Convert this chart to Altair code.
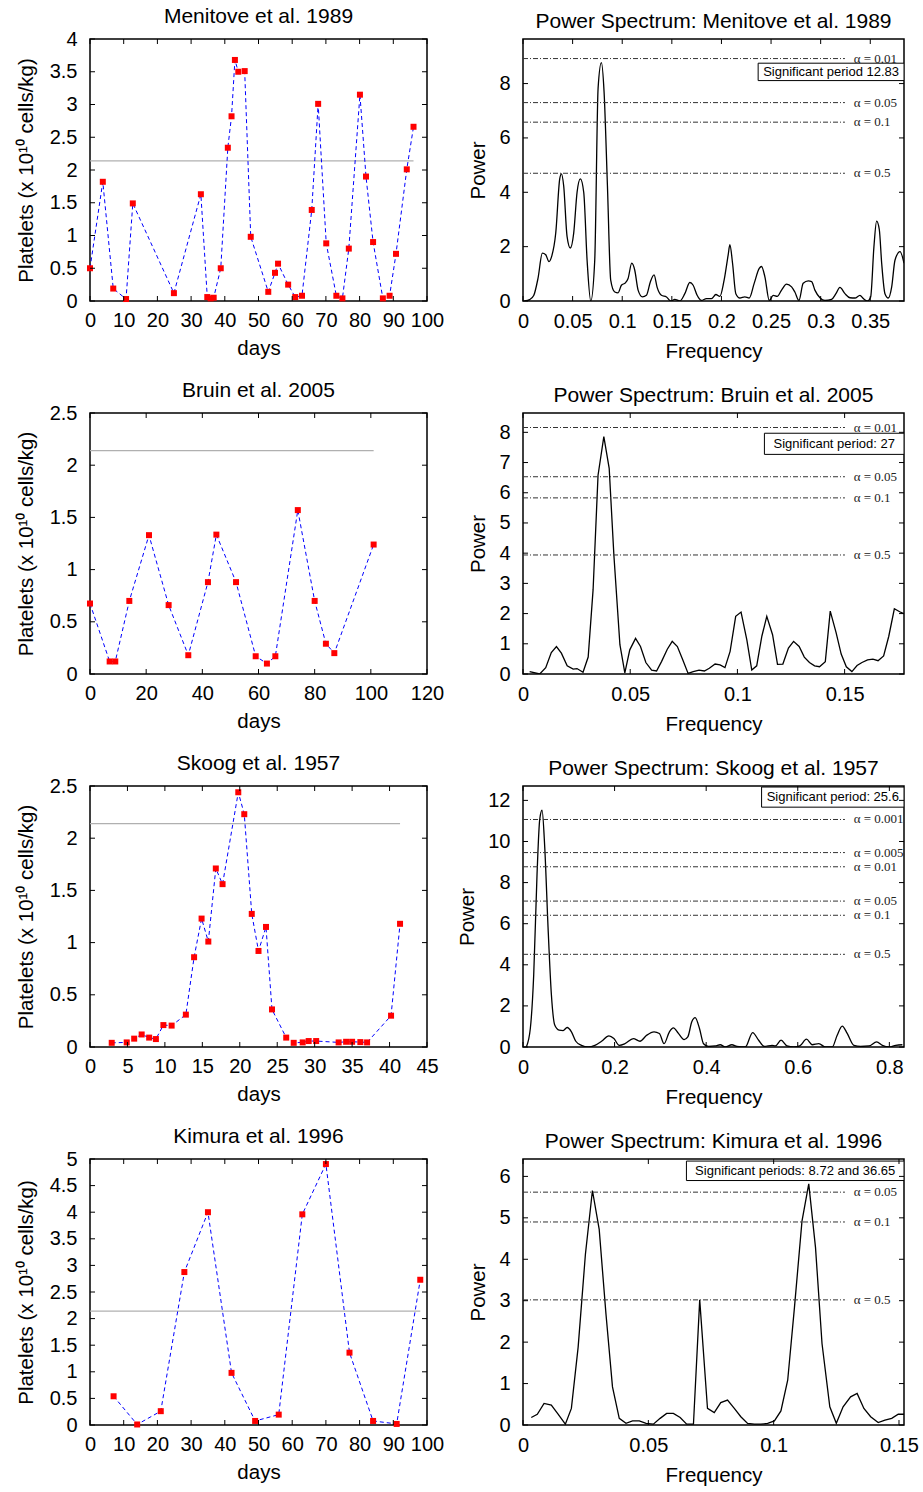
import altair as alt
import pandas as pd

FONT = "Liberation Sans"
SERIF = "Liberation Serif"
YTITLE = "Platelets (x 10\u00b9\u2070 cells/kg)"
NORMAL_LEVEL = 2.14

# ---------------- time series ----------------
men_days = [0, 3.8, 6.9, 10.7, 12.7, 24.9, 32.9, 34.8, 35.8, 36.7, 38.8, 40.9, 42.0, 43.0, 44.0,
            45.9, 47.7, 52.9, 54.9, 55.8, 58.8, 60.9, 62.9, 65.8, 67.7, 70.1, 73.1, 74.9, 76.8,
            80.1, 81.9, 84.0, 86.9, 88.9, 90.8, 94.0, 96.0]
men_vals = [0.50, 1.82, 0.19, 0.03, 1.49, 0.12, 1.63, 0.06, 0.04, 0.05, 0.50, 2.34, 2.82, 3.68,
            3.50, 3.51, 0.98, 0.14, 0.43, 0.57, 0.25, 0.06, 0.08, 1.39, 3.01, 0.88, 0.08, 0.04,
            0.80, 3.15, 1.90, 0.90, 0.04, 0.08, 0.72, 2.01, 2.66]

bru_days = [0, 7, 9, 14, 21, 28, 35, 42, 45, 52, 59, 63, 66, 74, 80, 84, 87, 101]
bru_vals = [0.675, 0.12, 0.12, 0.70, 1.33, 0.66, 0.18, 0.88, 1.335, 0.88, 0.17, 0.10, 0.17,
            1.57, 0.70, 0.29, 0.20, 1.24]

sko_days = [2.9, 4.9, 5.9, 6.9, 7.9, 8.8, 9.8, 10.9, 12.8, 13.9, 14.9, 15.8, 16.8, 17.7, 19.8,
            20.6, 21.6, 22.5, 23.5, 24.3, 26.2, 27.2, 28.4, 29.2, 30.2, 33.2, 34.2, 35.0, 36.1,
            37.0, 40.2, 41.4]
sko_vals = [0.04, 0.044, 0.08, 0.12, 0.09, 0.076, 0.21, 0.205, 0.31, 0.86, 1.23, 1.01, 1.71,
            1.56, 2.44, 2.23, 1.275, 0.92, 1.15, 0.36, 0.09, 0.04, 0.044, 0.057, 0.057, 0.044,
            0.05, 0.05, 0.047, 0.044, 0.30, 1.18]

kim_days = [7, 14, 21, 28, 35, 42, 49, 56, 63, 70, 77, 84, 91, 98]
kim_vals = [0.54, 0.01, 0.26, 2.875, 4.0, 0.98, 0.076, 0.195, 3.96, 4.905, 1.36, 0.076, 0.02, 2.73]

# ---------------- power spectra ----------------
men_f = [0.0017, 0.0067, 0.0108, 0.0151, 0.0195, 0.0229, 0.0262, 0.0289, 0.033, 0.037, 0.0387,
         0.041, 0.0444, 0.0477, 0.0511, 0.0545, 0.0578, 0.0612, 0.0646, 0.0683, 0.0723, 0.0757,
         0.079, 0.0817, 0.0851, 0.0884, 0.0925, 0.0958, 0.0992, 0.1032, 0.1059, 0.1096, 0.1126,
         0.116, 0.1204, 0.1244, 0.1284, 0.1321, 0.1352, 0.1395, 0.1446, 0.149, 0.153, 0.158,
         0.1631, 0.1681, 0.1715, 0.1755, 0.1799, 0.1849, 0.19, 0.1944, 0.1984, 0.2024, 0.2068,
         0.2085, 0.2112, 0.2145, 0.2186, 0.2236, 0.228, 0.233, 0.2381, 0.2404, 0.2438, 0.2482,
         0.2522, 0.2562, 0.2606, 0.2656, 0.2707, 0.274, 0.2781, 0.2824, 0.2875, 0.2909, 0.2942,
         0.2993, 0.3043, 0.311, 0.3154, 0.3194, 0.3245, 0.3295, 0.3346, 0.3396, 0.343, 0.347,
         0.3504, 0.3537, 0.3564, 0.3591, 0.3615, 0.3648, 0.3682, 0.3716, 0.3749, 0.38, 0.384]
men_p = [0, 0.05, 0.2, 0.83, 1.76, 1.70, 1.45, 1.64, 2.5, 4.49, 4.68, 4.24, 2.38, 1.95, 2.5, 4.0,
         4.49, 4.0, 1.5, 0, 1.5, 7.84, 8.77, 7.7, 4.24, 0.77, 0.33, 0.3, 0.58, 0.67, 0.83, 1.39,
         1.14, 0.4, 0.15, 0.21, 0.71, 0.96, 0.5, 0.21, 0.15, 0, 0.06, 0, 0.27, 0.68, 0.58, 0.21,
         0.02, 0.09, 0.09, 0.24, 0.17, 0.71, 1.70, 2.07, 1.39, 0.27, 0.11, 0.15, 0.11, 0.65, 1.20,
         1.27, 0.89, 0.02, 0.21, 0.17, 0.4, 0.62, 0.52, 0.33, 0.02, 0.65, 0.74, 0.71, 0.4, 0.12,
         0.02, 0.06, 0.27, 0.5, 0.27, 0.12, 0.11, 0.21, 0.09, 0, 0.15, 2.0, 2.94, 2.63, 1.39, 0.27,
         0.11, 0.52, 1.5, 1.82, 1.39]

bru_f = [0.0031, 0.0078, 0.0106, 0.0132, 0.0156, 0.0179, 0.0206, 0.0234, 0.0252, 0.028, 0.0304,
         0.0327, 0.035, 0.0377, 0.0402, 0.0424, 0.0452, 0.0475, 0.0498, 0.0525, 0.0548, 0.0573,
         0.06, 0.0623, 0.0646, 0.0673, 0.0696, 0.072, 0.0745, 0.077, 0.0794, 0.0821, 0.0846,
         0.0869, 0.0896, 0.0919, 0.0942, 0.0966, 0.0992, 0.1017, 0.1044, 0.1067, 0.109, 0.1114,
         0.1137, 0.1164, 0.1187, 0.1212, 0.1238, 0.1262, 0.1288, 0.1312, 0.1336, 0.136, 0.1383,
         0.141, 0.1433, 0.146, 0.1484, 0.1508, 0.1534, 0.1558, 0.1581, 0.1607, 0.1632, 0.1656,
         0.1682, 0.1706, 0.1732, 0.1757, 0.1776]
bru_p = [0.08, 0, 0.21, 0.71, 0.91, 0.69, 0.27, 0.16, 0.18, 0.06, 0.56, 2.8, 6.58, 7.86, 6.81,
         3.92, 0.97, 0.04, 0.80, 1.18, 0.91, 0.38, 0.13, 0.1, 0.41, 0.82, 1.08, 0.91, 0.47, 0.02,
         0.08, 0.13, 0.1, 0.19, 0.33, 0.3, 0.21, 0.75, 1.91, 2.05, 1.13, 0.13, 0.27, 1.25, 1.91,
         1.3, 0.32, 0.33, 0.86, 1.08, 0.91, 0.56, 0.38, 0.27, 0.24, 0.41, 2.08, 1.38, 0.66, 0.24,
         0.08, 0.28, 0.38, 0.47, 0.49, 0.44, 0.6, 1.25, 2.16, 2.06, 2.0]

sko_f = [0.0073, 0.016, 0.0234, 0.0307, 0.0365, 0.0416, 0.0474, 0.0547, 0.062, 0.0693, 0.0788,
         0.0876, 0.0964, 0.1058, 0.1153, 0.1277, 0.1423, 0.157, 0.1715, 0.1876, 0.1985, 0.2102,
         0.2226, 0.2409, 0.2555, 0.27, 0.2861, 0.2978, 0.308, 0.3197, 0.3285, 0.3394, 0.3518,
         0.3599, 0.3686, 0.3759, 0.3854, 0.3942, 0.4051, 0.4197, 0.4307, 0.4416, 0.4562, 0.4672,
         0.4854, 0.5015, 0.5146, 0.527, 0.5438, 0.5511, 0.5635, 0.5766, 0.5912, 0.6044, 0.619,
         0.6314, 0.646, 0.6606, 0.6752, 0.6861, 0.6971, 0.708, 0.7226, 0.7372, 0.7555, 0.7723,
         0.7847, 0.7993, 0.8139, 0.8285]
sko_p = [0, 0.9, 3.52, 8.44, 11.07, 11.52, 9.75, 5.82, 2.54, 1.07, 0.82, 0.8, 0.95, 0.74, 0.28,
         0.08, 0, 0.08, 0.28, 0.54, 0.41, 0.08, 0.16, 0.41, 0.28, 0.57, 0.74, 0.66, 0.16, 0.74,
         0.93, 0.66, 0.36, 0.49, 1.23, 1.43, 0.9, 0.16, 0.03, 0.05, 0.11, 0, 0.11, 0.03, 0, 0.7,
         0.33, 0.03, 0.08, 0.05, 0.33, 0.05, 0, 0.05, 0.38, 0.11, 0.16, 0, 0, 0.57, 1.02, 0.66,
         0.08, 0.03, 0.05, 0.25, 0.08, 0, 0.08, 0.11]

kim_f = [0.0033, 0.0057, 0.0084, 0.0113, 0.014, 0.0169, 0.0193, 0.022, 0.0249, 0.0277, 0.0304,
         0.0331, 0.0357, 0.0384, 0.0411, 0.0437, 0.0464, 0.0491, 0.052, 0.0547, 0.0573, 0.06,
         0.0627, 0.0653, 0.068, 0.0705, 0.0736, 0.0763, 0.0789, 0.0816, 0.0843, 0.0869, 0.0896,
         0.0923, 0.0949, 0.0976, 0.1003, 0.1029, 0.1056, 0.1083, 0.1113, 0.114, 0.1167, 0.1193,
         0.1224, 0.125, 0.1277, 0.1307, 0.1333, 0.136, 0.1387, 0.1417, 0.1444, 0.1471, 0.1497,
         0.152]
kim_p = [0.18, 0.26, 0.52, 0.48, 0.26, 0.02, 0.4, 1.88, 4.12, 5.66, 4.72, 2.68, 0.92, 0.16, 0.04,
         0.1, 0.1, 0.04, 0.02, 0.16, 0.28, 0.28, 0.18, 0.02, 0.02, 3.02, 0.4, 0.3, 0.54, 0.6, 0.4,
         0.2, 0.04, 0.02, 0.02, 0.04, 0.1, 0.34, 1.08, 2.84, 4.92, 5.82, 4.28, 1.96, 0.44, 0.04,
         0.44, 0.68, 0.76, 0.4, 0.2, 0.06, 0.12, 0.16, 0.26, 0.26]

# significance thresholds
men_alpha = ["\u03b1 = 0.01", "\u03b1 = 0.05", "\u03b1 = 0.1", "\u03b1 = 0.5"]
men_level = [8.92, 7.30, 6.58, 4.70]
bru_alpha = ["\u03b1 = 0.01", "\u03b1 = 0.05", "\u03b1 = 0.1", "\u03b1 = 0.5"]
bru_level = [8.16, 6.53, 5.83, 3.94]
sko_alpha = ["\u03b1 = 0.001", "\u03b1 = 0.005", "\u03b1 = 0.01", "\u03b1 = 0.05", "\u03b1 = 0.1", "\u03b1 = 0.5"]
sko_level = [11.07, 9.46, 8.77, 7.10, 6.41, 4.51]
kim_alpha = ["\u03b1 = 0.05", "\u03b1 = 0.1", "\u03b1 = 0.5"]
kim_level = [5.62, 4.90, 3.02]

# annotation boxes: left x, bottom y, top y, text
men_box = [0.237, 8.11, 8.75, "Significant period 12.83"]
bru_box = [0.1126, 7.27, 7.97, "Significant period: 27"]
sko_box = [0.521, 11.67, 12.65, "Significant period: 25.6"]
kim_box = [0.0652, 5.90, 6.37, "Significant periods: 8.72 and 36.65"]

# axis ticks
ticks_0_100 = [0, 10, 20, 30, 40, 50, 60, 70, 80, 90, 100]
ticks_0_120 = [0, 20, 40, 60, 80, 100, 120]
ticks_0_45 = [0, 5, 10, 15, 20, 25, 30, 35, 40, 45]
ticks_y4 = [0, 0.5, 1, 1.5, 2, 2.5, 3, 3.5, 4]
ticks_y25 = [0, 0.5, 1, 1.5, 2, 2.5]
ticks_y5 = [0, 0.5, 1, 1.5, 2, 2.5, 3, 3.5, 4, 4.5, 5]
men_fticks = [0, 0.05, 0.1, 0.15, 0.2, 0.25, 0.3, 0.35]
bru_fticks = [0, 0.05, 0.1, 0.15]
sko_fticks = [0, 0.2, 0.4, 0.6, 0.8]
kim_fticks = [0, 0.05, 0.1, 0.15]
men_pticks = [0, 2, 4, 6, 8]
bru_pticks = [0, 1, 2, 3, 4, 5, 6, 7, 8]
sko_pticks = [0, 2, 4, 6, 8, 10, 12]
kim_pticks = [0, 1, 2, 3, 4, 5, 6]

WL, WR = 337, 381
ROW_H = [262, 261, 261, 266]
TL = 5
LINE_END = 0.845
LABEL_X = 0.868


def inner_ticks(xticks, yticks, xs, ys, xaxis, yaxis, W, H):
    xt = pd.DataFrame({"v": xticks})
    yt = pd.DataFrame({"v": yticks})
    rule = dict(color="black", strokeWidth=1)
    return [
        alt.Chart(xt).mark_rule(**rule).encode(x=alt.X("v:Q", scale=xs, axis=xaxis), y=alt.value(0), y2=alt.value(TL)),
        alt.Chart(xt).mark_rule(**rule).encode(x=alt.X("v:Q", scale=xs, axis=xaxis), y=alt.value(H), y2=alt.value(H - TL)),
        alt.Chart(yt).mark_rule(**rule).encode(y=alt.Y("v:Q", scale=ys, axis=yaxis), x=alt.value(0), x2=alt.value(TL)),
        alt.Chart(yt).mark_rule(**rule).encode(y=alt.Y("v:Q", scale=ys, axis=yaxis), x=alt.value(W - TL), x2=alt.value(W)),
    ]


def series_panel(title, days, vals, xmax, xticks, ymax, yticks, H):
    xs = alt.Scale(domain=[0, xmax], nice=False, zero=False)
    ys = alt.Scale(domain=[0, ymax], nice=False, zero=False)
    df = pd.DataFrame({"day": days, "plt": vals})
    xaxis = alt.Axis(values=xticks, format="~r", title="days", labelPadding=9, titlePadding=8)
    yaxis = alt.Axis(values=yticks, format="~r", title=YTITLE, labelPadding=13, titlePadding=13)
    ref = alt.Chart(pd.DataFrame({"x0": [0], "x1": [max(days)], "y": [NORMAL_LEVEL]})).mark_rule(
        color="#b0b0b0", strokeWidth=1.2).encode(
        x=alt.X("x0:Q", scale=xs, axis=xaxis), x2="x1:Q", y=alt.Y("y:Q", scale=ys, axis=yaxis))
    line = alt.Chart(df).mark_line(color="#0000ff", strokeDash=[4, 3], strokeWidth=1).encode(
        x=alt.X("day:Q", scale=xs, axis=xaxis), y=alt.Y("plt:Q", scale=ys, axis=yaxis))
    pts = alt.Chart(df).mark_square(color="#ff0000", size=36, opacity=1).encode(
        x=alt.X("day:Q", scale=xs, axis=xaxis), y=alt.Y("plt:Q", scale=ys, axis=yaxis))
    layers = [ref, line, pts] + inner_ticks(xticks, yticks, xs, ys, xaxis, yaxis, WL, H)
    return alt.layer(*layers).properties(width=WL, height=H,
                                         title=alt.Title(title, offset=2, frame="group"))


def spectrum_panel(title, f, p, xmax, xticks, ymax, yticks, alphas, levels, box, H, interp):
    xs = alt.Scale(domain=[0, xmax], nice=False, zero=False)
    ys = alt.Scale(domain=[0, ymax], nice=False, zero=False)
    df = pd.DataFrame({"f": f, "p": p})
    xaxis = alt.Axis(values=xticks, format="~r", title="Frequency", labelPadding=10, titlePadding=10)
    yaxis = alt.Axis(values=yticks, format="~r", title="Power", labelPadding=13, titlePadding=10)
    curve = alt.Chart(df).mark_line(color="black", strokeWidth=1.3, interpolate=interp, clip=True).encode(
        x=alt.X("f:Q", scale=xs, axis=xaxis), y=alt.Y("p:Q", scale=ys, axis=yaxis))
    thr = pd.DataFrame({"lab": alphas, "lev": levels})
    thr["x0"] = 0.0
    thr["x1"] = xmax * LINE_END
    thr["xt"] = xmax * LABEL_X
    rules = alt.Chart(thr).mark_rule(color="#333333", strokeWidth=1, strokeDash=[5, 2, 1, 2]).encode(
        x=alt.X("x0:Q", scale=xs, axis=xaxis), x2="x1:Q", y=alt.Y("lev:Q", scale=ys, axis=yaxis))
    labels = alt.Chart(thr).mark_text(font=SERIF, fontSize=13, align="left", baseline="middle",
                                      color="#222222", clip=True).encode(
        x=alt.X("xt:Q", scale=xs, axis=xaxis), y=alt.Y("lev:Q", scale=ys, axis=yaxis), text="lab:N")
    bx = pd.DataFrame({"x0": [box[0]], "x1": [xmax], "y0": [box[1]], "y1": [box[2]],
                       "xm": [(box[0] + xmax) / 2], "ym": [(box[1] + box[2]) / 2], "t": [box[3]]})
    rect = alt.Chart(bx).mark_rect(fill="white", stroke="black", strokeWidth=1, clip=True).encode(
        x=alt.X("x0:Q", scale=xs, axis=xaxis), x2="x1:Q", y=alt.Y("y0:Q", scale=ys, axis=yaxis), y2="y1:Q")
    btxt = alt.Chart(bx).mark_text(font=FONT, fontSize=13, align="center", baseline="middle",
                                   color="black", clip=True).encode(
        x=alt.X("xm:Q", scale=xs, axis=xaxis), y=alt.Y("ym:Q", scale=ys, axis=yaxis), text="t:N")
    layers = [curve, rules, labels, rect, btxt] + inner_ticks(xticks, yticks, xs, ys, xaxis, yaxis, WR, H)
    return alt.layer(*layers).properties(width=WR, height=H,
                                         title=alt.Title(title, offset=7, frame="group"))


panels = [
    series_panel("Menitove et al. 1989", men_days, men_vals, 100, ticks_0_100, 4, ticks_y4, ROW_H[0]),
    spectrum_panel("Power Spectrum: Menitove et al. 1989", men_f, men_p, 0.384, men_fticks, 9.64,
                   men_pticks, men_alpha, men_level, men_box, ROW_H[0], "monotone"),
    series_panel("Bruin et al. 2005", bru_days, bru_vals, 120, ticks_0_120, 2.5, ticks_y25, ROW_H[1]),
    spectrum_panel("Power Spectrum: Bruin et al. 2005", bru_f, bru_p, 0.1777, bru_fticks, 8.64,
                   bru_pticks, bru_alpha, bru_level, bru_box, ROW_H[1], "linear"),
    series_panel("Skoog et al. 1957", sko_days, sko_vals, 45, ticks_0_45, 2.5, ticks_y25, ROW_H[2]),
    spectrum_panel("Power Spectrum: Skoog et al. 1957", sko_f, sko_p, 0.832, sko_fticks, 12.7,
                   sko_pticks, sko_alpha, sko_level, sko_box, ROW_H[2], "monotone"),
    series_panel("Kimura et al. 1996", kim_days, kim_vals, 100, ticks_0_100, 5, ticks_y5, ROW_H[3]),
    spectrum_panel("Power Spectrum: Kimura et al. 1996", kim_f, kim_p, 0.152, kim_fticks, 6.42,
                   kim_pticks, kim_alpha, kim_level, kim_box, ROW_H[3], "linear"),
]

chart = alt.concat(*panels, columns=2, spacing={"row": 112, "column": 96}, bounds="flush").properties(
    autosize=alt.AutoSizeParams(type="none"),
    padding={"left": 90, "top": 39, "right": 833, "bottom": 1453},
    background="white",
).configure_view(
    stroke="black", strokeWidth=1.5
).configure_axis(
    domain=False, ticks=False, grid=False, labelFont=FONT, labelFontSize=20, labelColor="black",
    titleFont=FONT, titleFontSize=20.5, titleFontWeight="normal", titleColor="black",
    labelOverlap=False, labelFlush=False
).configure_title(
    font=FONT, fontSize=21, fontWeight="normal", color="black", anchor="middle"
)

chart.save("out.html", embed_options={"renderer": "svg", "actions": False})
